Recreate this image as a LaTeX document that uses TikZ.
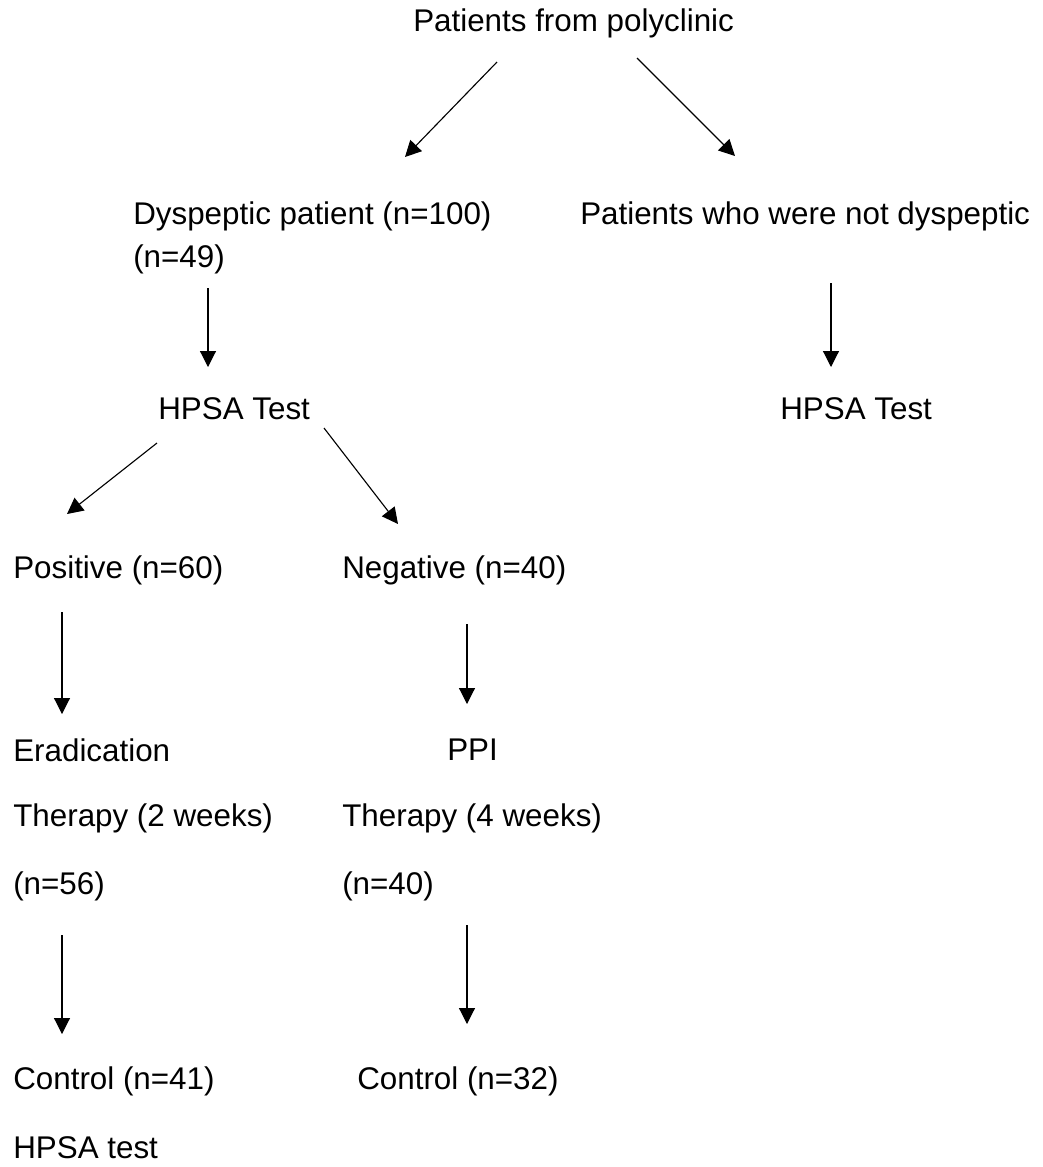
\documentclass[tikz,border=0pt]{standalone}
\usepackage{fontspec}
\setmainfont{Liberation Sans}
\usepackage{tikz}
\usetikzlibrary{arrows.meta}

\begin{document}
\begin{tikzpicture}[
  x=0.025cm, y=-0.025cm,
  font=\fontsize{22.3pt}{26pt}\selectfont,
  lbl/.style={anchor=west,inner sep=0pt},
  arr/.style={-{Triangle[length=0.4cm,width=0.4cm]},line width=0.8pt}
]
\useasboundingbox (0,0) rectangle (1043,1167);
% labels
\node[lbl] (top) at (413,23) {Patients from polyclinic};
\node[lbl] (dys) at (133,216) {Dyspeptic patient (n=100)};
\node[lbl] (dys49) at (133,259) {(n=49)};
\node[lbl] (notdys) at (580,216) {Patients who were not dyspeptic};
\node[lbl] (hpsaL) at (158,409) {HPSA Test};
\node[lbl] (hpsaR) at (780,409) {HPSA Test};
\node[lbl] (pos) at (13,570) {Positive (n=60)};
\node[lbl] (neg) at (342,570) {Negative (n=40)};
\node[lbl] (erad) at (13,750) {Eradication};
\node[lbl] (ppi) at (447,750) {PPI};
\node[lbl] (ther2) at (13,818) {Therapy (2 weeks)};
\node[lbl] (ther4) at (342,818) {Therapy (4 weeks)};
\node[lbl] (n56) at (13,886) {(n=56)};
\node[lbl] (n40) at (342,886) {(n=40)};
\node[lbl] (ctl41) at (13,1081) {Control (n=41)};
\node[lbl] (ctl32) at (357,1081) {Control (n=32)};
\node[lbl] (hpsatest) at (13,1148) {HPSA test};
% arrow ends
\coordinate (topL) at (497,62);
\coordinate (dysT) at (405,157);
\coordinate (topR) at (637,58);
\coordinate (notT) at (735,156);
\coordinate (dysB) at (208,288);
\coordinate (hpsaLT) at (208,367);
\coordinate (notB) at (831,283);
\coordinate (hpsaRT) at (831,367);
\coordinate (hpsaBL) at (157,443);
\coordinate (posT) at (67,514);
\coordinate (hpsaBR) at (324,428);
\coordinate (negT) at (398,524);
\coordinate (posB) at (62,612);
\coordinate (eradT) at (62,714);
\coordinate (negB) at (467,624);
\coordinate (ppiT) at (467,704);
\coordinate (n56B) at (62,935);
\coordinate (ctl41T) at (62,1034);
\coordinate (n40B) at (467,925);
\coordinate (ctl32T) at (467,1024);
% arrows
\draw[arr] (topL) -- (dysT);
\draw[arr] (topR) -- (notT);
\draw[arr] (dysB) -- (hpsaLT);
\draw[arr] (notB) -- (hpsaRT);
\draw[arr] (hpsaBL) -- (posT);
\draw[arr] (hpsaBR) -- (negT);
\draw[arr] (posB) -- (eradT);
\draw[arr] (negB) -- (ppiT);
\draw[arr] (n56B) -- (ctl41T);
\draw[arr] (n40B) -- (ctl32T);
\end{tikzpicture}
\end{document}
